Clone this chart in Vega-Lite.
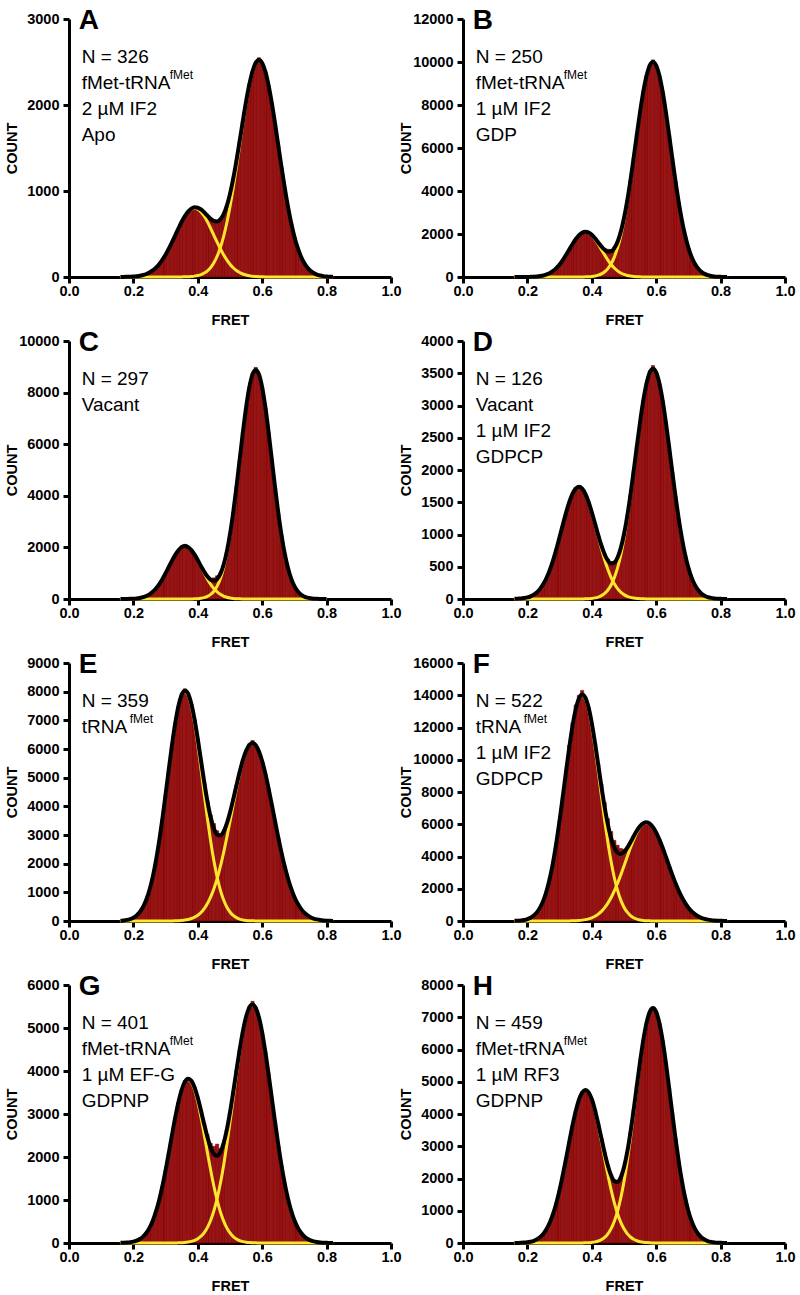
{
"$schema": "https://vega.github.io/schema/vega-lite/v6.json",
"background": "white",
"padding": {"left": 4, "top": 7, "right": 4, "bottom": 2},
"config": {
  "view": {"stroke": null},
  "font": "Liberation Sans"
},
"datasets": {
"d": [
{"p":"A","x":0.16,"h":0,"a":0,"b":0,"t":0},
{"p":"A","x":0.17,"h":1,"a":1,"b":0,"t":1},
{"p":"A","x":0.18,"h":2,"a":2,"b":0,"t":2},
{"p":"A","x":0.19,"h":3,"a":3,"b":0,"t":3},
{"p":"A","x":0.20,"h":5,"a":5,"b":0,"t":5},
{"p":"A","x":0.21,"h":9,"a":9,"b":0,"t":9},
{"p":"A","x":0.22,"h":14,"a":14,"b":0,"t":14},
{"p":"A","x":0.23,"h":23,"a":23,"b":0,"t":23},
{"p":"A","x":0.24,"h":35,"a":35,"b":0,"t":35},
{"p":"A","x":0.25,"h":53,"a":53,"b":0,"t":53},
{"p":"A","x":0.26,"h":76,"a":76,"b":0,"t":76},
{"p":"A","x":0.27,"h":108,"a":108,"b":0,"t":108},
{"p":"A","x":0.28,"h":149,"a":149,"b":0,"t":149},
{"p":"A","x":0.29,"h":200,"a":200,"b":0,"t":200},
{"p":"A","x":0.30,"h":260,"a":260,"b":0,"t":260},
{"p":"A","x":0.31,"h":329,"a":329,"b":0,"t":329},
{"p":"A","x":0.32,"h":405,"a":405,"b":0,"t":405},
{"p":"A","x":0.33,"h":485,"a":485,"b":0,"t":485},
{"p":"A","x":0.34,"h":565,"a":565,"b":0,"t":565},
{"p":"A","x":0.35,"h":642,"a":641,"b":1,"t":642},
{"p":"A","x":0.36,"h":708,"a":706,"b":2,"t":708},
{"p":"A","x":0.37,"h":760,"a":757,"b":3,"t":760},
{"p":"A","x":0.38,"h":800,"a":789,"b":6,"t":795},
{"p":"A","x":0.39,"h":815,"a":800,"b":10,"t":810},
{"p":"A","x":0.40,"h":806,"a":789,"b":17,"t":806},
{"p":"A","x":0.41,"h":785,"a":757,"b":28,"t":785},
{"p":"A","x":0.42,"h":752,"a":706,"b":46,"t":752},
{"p":"A","x":0.43,"h":713,"a":641,"b":72,"t":713},
{"p":"A","x":0.44,"h":680,"a":565,"b":111,"t":676},
{"p":"A","x":0.45,"h":660,"a":485,"b":166,"t":651},
{"p":"A","x":0.46,"h":655,"a":405,"b":241,"t":646},
{"p":"A","x":0.47,"h":675,"a":329,"b":341,"t":670},
{"p":"A","x":0.48,"h":729,"a":260,"b":469,"t":729},
{"p":"A","x":0.49,"h":828,"a":200,"b":628,"t":828},
{"p":"A","x":0.50,"h":967,"a":149,"b":818,"t":967},
{"p":"A","x":0.51,"h":1144,"a":108,"b":1036,"t":1144},
{"p":"A","x":0.52,"h":1352,"a":76,"b":1276,"t":1352},
{"p":"A","x":0.53,"h":1581,"a":53,"b":1528,"t":1581},
{"p":"A","x":0.54,"h":1816,"a":35,"b":1781,"t":1816},
{"p":"A","x":0.55,"h":2041,"a":23,"b":2018,"t":2041},
{"p":"A","x":0.56,"h":2238,"a":14,"b":2224,"t":2238},
{"p":"A","x":0.57,"h":2393,"a":9,"b":2384,"t":2393},
{"p":"A","x":0.58,"h":2500,"a":5,"b":2485,"t":2490},
{"p":"A","x":0.59,"h":2550,"a":3,"b":2520,"t":2523},
{"p":"A","x":0.60,"h":2487,"a":2,"b":2485,"t":2487},
{"p":"A","x":0.61,"h":2385,"a":1,"b":2384,"t":2385},
{"p":"A","x":0.62,"h":2224,"a":0,"b":2224,"t":2224},
{"p":"A","x":0.63,"h":2018,"a":0,"b":2018,"t":2018},
{"p":"A","x":0.64,"h":1781,"a":0,"b":1781,"t":1781},
{"p":"A","x":0.65,"h":1528,"a":0,"b":1528,"t":1528},
{"p":"A","x":0.66,"h":1276,"a":0,"b":1276,"t":1276},
{"p":"A","x":0.67,"h":1036,"a":0,"b":1036,"t":1036},
{"p":"A","x":0.68,"h":818,"a":0,"b":818,"t":818},
{"p":"A","x":0.69,"h":628,"a":0,"b":628,"t":628},
{"p":"A","x":0.70,"h":469,"a":0,"b":469,"t":469},
{"p":"A","x":0.71,"h":341,"a":0,"b":341,"t":341},
{"p":"A","x":0.72,"h":241,"a":0,"b":241,"t":241},
{"p":"A","x":0.73,"h":166,"a":0,"b":166,"t":166},
{"p":"A","x":0.74,"h":111,"a":0,"b":111,"t":111},
{"p":"A","x":0.75,"h":72,"a":0,"b":72,"t":72},
{"p":"A","x":0.76,"h":46,"a":0,"b":46,"t":46},
{"p":"A","x":0.77,"h":28,"a":0,"b":28,"t":28},
{"p":"A","x":0.78,"h":17,"a":0,"b":17,"t":17},
{"p":"A","x":0.79,"h":10,"a":0,"b":10,"t":10},
{"p":"A","x":0.80,"h":6,"a":0,"b":6,"t":6},
{"p":"A","x":0.81,"h":3,"a":0,"b":3,"t":3},
{"p":"A","x":0.82,"h":2,"a":0,"b":2,"t":2},

{"p":"B","x":0.16,"h":0,"a":0,"b":0,"t":0},
{"p":"B","x":0.17,"h":0,"a":0,"b":0,"t":0},
{"p":"B","x":0.18,"h":1,"a":1,"b":0,"t":1},
{"p":"B","x":0.19,"h":1,"a":1,"b":0,"t":1},
{"p":"B","x":0.20,"h":3,"a":3,"b":0,"t":3},
{"p":"B","x":0.21,"h":7,"a":7,"b":0,"t":7},
{"p":"B","x":0.22,"h":13,"a":13,"b":0,"t":13},
{"p":"B","x":0.23,"h":23,"a":23,"b":0,"t":23},
{"p":"B","x":0.24,"h":42,"a":42,"b":0,"t":42},
{"p":"B","x":0.25,"h":71,"a":71,"b":0,"t":71},
{"p":"B","x":0.26,"h":118,"a":118,"b":0,"t":118},
{"p":"B","x":0.27,"h":187,"a":187,"b":0,"t":187},
{"p":"B","x":0.28,"h":284,"a":284,"b":0,"t":284},
{"p":"B","x":0.29,"h":416,"a":416,"b":0,"t":416},
{"p":"B","x":0.30,"h":584,"a":584,"b":0,"t":584},
{"p":"B","x":0.31,"h":788,"a":788,"b":0,"t":788},
{"p":"B","x":0.32,"h":1022,"a":1022,"b":0,"t":1022},
{"p":"B","x":0.33,"h":1274,"a":1274,"b":0,"t":1274},
{"p":"B","x":0.34,"h":1525,"a":1525,"b":0,"t":1525},
{"p":"B","x":0.35,"h":1754,"a":1754,"b":0,"t":1754},
{"p":"B","x":0.36,"h":1940,"a":1939,"b":1,"t":1940},
{"p":"B","x":0.37,"h":2080,"a":2058,"b":3,"t":2061},
{"p":"B","x":0.38,"h":2120,"a":2100,"b":7,"t":2107},
{"p":"B","x":0.39,"h":2071,"a":2058,"b":13,"t":2071},
{"p":"B","x":0.40,"h":1965,"a":1939,"b":26,"t":1965},
{"p":"B","x":0.41,"h":1801,"a":1754,"b":47,"t":1801},
{"p":"B","x":0.42,"h":1620,"a":1525,"b":84,"t":1609},
{"p":"B","x":0.43,"h":1450,"a":1274,"b":145,"t":1419},
{"p":"B","x":0.44,"h":1330,"a":1022,"b":243,"t":1265},
{"p":"B","x":0.45,"h":1290,"a":788,"b":392,"t":1180},
{"p":"B","x":0.46,"h":1280,"a":584,"b":612,"t":1196},
{"p":"B","x":0.47,"h":1390,"a":416,"b":926,"t":1342},
{"p":"B","x":0.48,"h":1637,"a":284,"b":1353,"t":1637},
{"p":"B","x":0.49,"h":2102,"a":187,"b":1915,"t":2102},
{"p":"B","x":0.50,"h":2740,"a":118,"b":2622,"t":2740},
{"p":"B","x":0.51,"h":3543,"a":71,"b":3472,"t":3543},
{"p":"B","x":0.52,"h":4491,"a":42,"b":4449,"t":4491},
{"p":"B","x":0.53,"h":5538,"a":23,"b":5515,"t":5538},
{"p":"B","x":0.54,"h":6628,"a":13,"b":6615,"t":6628},
{"p":"B","x":0.55,"h":7683,"a":7,"b":7676,"t":7683},
{"p":"B","x":0.56,"h":8621,"a":3,"b":8618,"t":8621},
{"p":"B","x":0.57,"h":9361,"a":1,"b":9360,"t":9361},
{"p":"B","x":0.58,"h":9900,"a":1,"b":9836,"t":9837},
{"p":"B","x":0.59,"h":10100,"a":0,"b":10000,"t":10000},
{"p":"B","x":0.60,"h":9836,"a":0,"b":9836,"t":9836},
{"p":"B","x":0.61,"h":9360,"a":0,"b":9360,"t":9360},
{"p":"B","x":0.62,"h":8618,"a":0,"b":8618,"t":8618},
{"p":"B","x":0.63,"h":7676,"a":0,"b":7676,"t":7676},
{"p":"B","x":0.64,"h":6615,"a":0,"b":6615,"t":6615},
{"p":"B","x":0.65,"h":5515,"a":0,"b":5515,"t":5515},
{"p":"B","x":0.66,"h":4449,"a":0,"b":4449,"t":4449},
{"p":"B","x":0.67,"h":3472,"a":0,"b":3472,"t":3472},
{"p":"B","x":0.68,"h":2622,"a":0,"b":2622,"t":2622},
{"p":"B","x":0.69,"h":1915,"a":0,"b":1915,"t":1915},
{"p":"B","x":0.70,"h":1353,"a":0,"b":1353,"t":1353},
{"p":"B","x":0.71,"h":926,"a":0,"b":926,"t":926},
{"p":"B","x":0.72,"h":640,"a":0,"b":612,"t":612},
{"p":"B","x":0.73,"h":420,"a":0,"b":392,"t":392},
{"p":"B","x":0.74,"h":290,"a":0,"b":243,"t":243},
{"p":"B","x":0.75,"h":190,"a":0,"b":145,"t":145},
{"p":"B","x":0.76,"h":120,"a":0,"b":84,"t":84},
{"p":"B","x":0.77,"h":60,"a":0,"b":47,"t":47},
{"p":"B","x":0.78,"h":26,"a":0,"b":26,"t":26},
{"p":"B","x":0.79,"h":13,"a":0,"b":13,"t":13},
{"p":"B","x":0.80,"h":7,"a":0,"b":7,"t":7},
{"p":"B","x":0.81,"h":3,"a":0,"b":3,"t":3},
{"p":"B","x":0.82,"h":1,"a":0,"b":1,"t":1},

{"p":"C","x":0.16,"h":1,"a":1,"b":0,"t":1},
{"p":"C","x":0.17,"h":1,"a":1,"b":0,"t":1},
{"p":"C","x":0.18,"h":3,"a":3,"b":0,"t":3},
{"p":"C","x":0.19,"h":6,"a":6,"b":0,"t":6},
{"p":"C","x":0.20,"h":12,"a":12,"b":0,"t":12},
{"p":"C","x":0.21,"h":23,"a":23,"b":0,"t":23},
{"p":"C","x":0.22,"h":41,"a":41,"b":0,"t":41},
{"p":"C","x":0.23,"h":70,"a":70,"b":0,"t":70},
{"p":"C","x":0.24,"h":115,"a":115,"b":0,"t":115},
{"p":"C","x":0.25,"h":182,"a":182,"b":0,"t":182},
{"p":"C","x":0.26,"h":277,"a":277,"b":0,"t":277},
{"p":"C","x":0.27,"h":406,"a":406,"b":0,"t":406},
{"p":"C","x":0.28,"h":570,"a":570,"b":0,"t":570},
{"p":"C","x":0.29,"h":769,"a":769,"b":0,"t":769},
{"p":"C","x":0.30,"h":998,"a":998,"b":0,"t":998},
{"p":"C","x":0.31,"h":1243,"a":1243,"b":0,"t":1243},
{"p":"C","x":0.32,"h":1489,"a":1489,"b":0,"t":1489},
{"p":"C","x":0.33,"h":1712,"a":1712,"b":0,"t":1712},
{"p":"C","x":0.34,"h":1892,"a":1892,"b":0,"t":1892},
{"p":"C","x":0.35,"h":2060,"a":2009,"b":0,"t":2009},
{"p":"C","x":0.36,"h":2120,"a":2050,"b":0,"t":2050},
{"p":"C","x":0.37,"h":2040,"a":2009,"b":1,"t":2010},
{"p":"C","x":0.38,"h":1895,"a":1892,"b":3,"t":1895},
{"p":"C","x":0.39,"h":1718,"a":1712,"b":6,"t":1718},
{"p":"C","x":0.40,"h":1502,"a":1489,"b":13,"t":1502},
{"p":"C","x":0.41,"h":1271,"a":1243,"b":28,"t":1271},
{"p":"C","x":0.42,"h":1060,"a":998,"b":53,"t":1051},
{"p":"C","x":0.43,"h":890,"a":769,"b":99,"t":868},
{"p":"C","x":0.44,"h":800,"a":570,"b":176,"t":746},
{"p":"C","x":0.45,"h":820,"a":406,"b":302,"t":708},
{"p":"C","x":0.46,"h":900,"a":277,"b":498,"t":775},
{"p":"C","x":0.47,"h":1010,"a":182,"b":789,"t":971},
{"p":"C","x":0.48,"h":1316,"a":115,"b":1201,"t":1316},
{"p":"C","x":0.49,"h":1827,"a":70,"b":1757,"t":1827},
{"p":"C","x":0.50,"h":2510,"a":41,"b":2469,"t":2510},
{"p":"C","x":0.51,"h":3356,"a":23,"b":3333,"t":3356},
{"p":"C","x":0.52,"h":4335,"a":12,"b":4323,"t":4335},
{"p":"C","x":0.53,"h":5392,"a":6,"b":5386,"t":5392},
{"p":"C","x":0.54,"h":6451,"a":3,"b":6448,"t":6451},
{"p":"C","x":0.55,"h":7418,"a":1,"b":7417,"t":7418},
{"p":"C","x":0.56,"h":8198,"a":1,"b":8197,"t":8198},
{"p":"C","x":0.57,"h":8760,"a":0,"b":8704,"t":8704},
{"p":"C","x":0.58,"h":8980,"a":0,"b":8880,"t":8880},
{"p":"C","x":0.59,"h":8704,"a":0,"b":8704,"t":8704},
{"p":"C","x":0.60,"h":8197,"a":0,"b":8197,"t":8197},
{"p":"C","x":0.61,"h":7417,"a":0,"b":7417,"t":7417},
{"p":"C","x":0.62,"h":6448,"a":0,"b":6448,"t":6448},
{"p":"C","x":0.63,"h":5386,"a":0,"b":5386,"t":5386},
{"p":"C","x":0.64,"h":4323,"a":0,"b":4323,"t":4323},
{"p":"C","x":0.65,"h":3333,"a":0,"b":3333,"t":3333},
{"p":"C","x":0.66,"h":2469,"a":0,"b":2469,"t":2469},
{"p":"C","x":0.67,"h":1757,"a":0,"b":1757,"t":1757},
{"p":"C","x":0.68,"h":1201,"a":0,"b":1201,"t":1201},
{"p":"C","x":0.69,"h":789,"a":0,"b":789,"t":789},
{"p":"C","x":0.70,"h":498,"a":0,"b":498,"t":498},
{"p":"C","x":0.71,"h":302,"a":0,"b":302,"t":302},
{"p":"C","x":0.72,"h":176,"a":0,"b":176,"t":176},
{"p":"C","x":0.73,"h":99,"a":0,"b":99,"t":99},
{"p":"C","x":0.74,"h":53,"a":0,"b":53,"t":53},
{"p":"C","x":0.75,"h":28,"a":0,"b":28,"t":28},
{"p":"C","x":0.76,"h":13,"a":0,"b":13,"t":13},
{"p":"C","x":0.77,"h":6,"a":0,"b":6,"t":6},
{"p":"C","x":0.78,"h":3,"a":0,"b":3,"t":3},
{"p":"C","x":0.79,"h":1,"a":0,"b":1,"t":1},
{"p":"C","x":0.80,"h":0,"a":0,"b":0,"t":0},

{"p":"D","x":0.16,"h":2,"a":2,"b":0,"t":2},
{"p":"D","x":0.17,"h":5,"a":5,"b":0,"t":5},
{"p":"D","x":0.18,"h":8,"a":8,"b":0,"t":8},
{"p":"D","x":0.19,"h":15,"a":15,"b":0,"t":15},
{"p":"D","x":0.20,"h":25,"a":25,"b":0,"t":25},
{"p":"D","x":0.21,"h":42,"a":42,"b":0,"t":42},
{"p":"D","x":0.22,"h":68,"a":68,"b":0,"t":68},
{"p":"D","x":0.23,"h":106,"a":106,"b":0,"t":106},
{"p":"D","x":0.24,"h":161,"a":161,"b":0,"t":161},
{"p":"D","x":0.25,"h":235,"a":235,"b":0,"t":235},
{"p":"D","x":0.26,"h":333,"a":333,"b":0,"t":333},
{"p":"D","x":0.27,"h":456,"a":456,"b":0,"t":456},
{"p":"D","x":0.28,"h":604,"a":604,"b":0,"t":604},
{"p":"D","x":0.29,"h":774,"a":774,"b":0,"t":774},
{"p":"D","x":0.30,"h":960,"a":960,"b":0,"t":960},
{"p":"D","x":0.31,"h":1151,"a":1151,"b":0,"t":1151},
{"p":"D","x":0.32,"h":1336,"a":1336,"b":0,"t":1336},
{"p":"D","x":0.33,"h":1500,"a":1500,"b":0,"t":1500},
{"p":"D","x":0.34,"h":1629,"a":1629,"b":0,"t":1629},
{"p":"D","x":0.35,"h":1730,"a":1711,"b":0,"t":1711},
{"p":"D","x":0.36,"h":1760,"a":1740,"b":0,"t":1740},
{"p":"D","x":0.37,"h":1712,"a":1711,"b":1,"t":1712},
{"p":"D","x":0.38,"h":1631,"a":1629,"b":2,"t":1631},
{"p":"D","x":0.39,"h":1505,"a":1500,"b":5,"t":1505},
{"p":"D","x":0.40,"h":1345,"a":1336,"b":9,"t":1345},
{"p":"D","x":0.41,"h":1168,"a":1151,"b":17,"t":1168},
{"p":"D","x":0.42,"h":990,"a":960,"b":30,"t":990},
{"p":"D","x":0.43,"h":826,"a":774,"b":52,"t":826},
{"p":"D","x":0.44,"h":700,"a":604,"b":87,"t":691},
{"p":"D","x":0.45,"h":620,"a":456,"b":140,"t":596},
{"p":"D","x":0.46,"h":580,"a":333,"b":218,"t":551},
{"p":"D","x":0.47,"h":580,"a":235,"b":331,"t":566},
{"p":"D","x":0.48,"h":644,"a":161,"b":483,"t":644},
{"p":"D","x":0.49,"h":790,"a":106,"b":684,"t":790},
{"p":"D","x":0.50,"h":1004,"a":68,"b":936,"t":1004},
{"p":"D","x":0.51,"h":1282,"a":42,"b":1240,"t":1282},
{"p":"D","x":0.52,"h":1613,"a":25,"b":1588,"t":1613},
{"p":"D","x":0.53,"h":1984,"a":15,"b":1969,"t":1984},
{"p":"D","x":0.54,"h":2370,"a":8,"b":2362,"t":2370},
{"p":"D","x":0.55,"h":2745,"a":5,"b":2740,"t":2745},
{"p":"D","x":0.56,"h":3079,"a":2,"b":3077,"t":3079},
{"p":"D","x":0.57,"h":3343,"a":1,"b":3342,"t":3343},
{"p":"D","x":0.58,"h":3540,"a":1,"b":3511,"t":3512},
{"p":"D","x":0.59,"h":3620,"a":0,"b":3570,"t":3570},
{"p":"D","x":0.60,"h":3511,"a":0,"b":3511,"t":3511},
{"p":"D","x":0.61,"h":3342,"a":0,"b":3342,"t":3342},
{"p":"D","x":0.62,"h":3077,"a":0,"b":3077,"t":3077},
{"p":"D","x":0.63,"h":2740,"a":0,"b":2740,"t":2740},
{"p":"D","x":0.64,"h":2362,"a":0,"b":2362,"t":2362},
{"p":"D","x":0.65,"h":1969,"a":0,"b":1969,"t":1969},
{"p":"D","x":0.66,"h":1588,"a":0,"b":1588,"t":1588},
{"p":"D","x":0.67,"h":1240,"a":0,"b":1240,"t":1240},
{"p":"D","x":0.68,"h":936,"a":0,"b":936,"t":936},
{"p":"D","x":0.69,"h":684,"a":0,"b":684,"t":684},
{"p":"D","x":0.70,"h":483,"a":0,"b":483,"t":483},
{"p":"D","x":0.71,"h":331,"a":0,"b":331,"t":331},
{"p":"D","x":0.72,"h":218,"a":0,"b":218,"t":218},
{"p":"D","x":0.73,"h":140,"a":0,"b":140,"t":140},
{"p":"D","x":0.74,"h":87,"a":0,"b":87,"t":87},
{"p":"D","x":0.75,"h":52,"a":0,"b":52,"t":52},
{"p":"D","x":0.76,"h":30,"a":0,"b":30,"t":30},
{"p":"D","x":0.77,"h":17,"a":0,"b":17,"t":17},
{"p":"D","x":0.78,"h":9,"a":0,"b":9,"t":9},
{"p":"D","x":0.79,"h":5,"a":0,"b":5,"t":5},
{"p":"D","x":0.80,"h":2,"a":0,"b":2,"t":2},
{"p":"D","x":0.81,"h":1,"a":0,"b":1,"t":1},
{"p":"D","x":0.82,"h":0,"a":0,"b":0,"t":0},

{"p":"E","x":0.16,"h":10,"a":10,"b":0,"t":10},
{"p":"E","x":0.17,"h":21,"a":21,"b":0,"t":21},
{"p":"E","x":0.18,"h":38,"a":38,"b":0,"t":38},
{"p":"E","x":0.19,"h":67,"a":67,"b":0,"t":67},
{"p":"E","x":0.20,"h":116,"a":116,"b":0,"t":116},
{"p":"E","x":0.21,"h":194,"a":194,"b":0,"t":194},
{"p":"E","x":0.22,"h":314,"a":314,"b":0,"t":314},
{"p":"E","x":0.23,"h":490,"a":490,"b":0,"t":490},
{"p":"E","x":0.24,"h":741,"a":741,"b":0,"t":741},
{"p":"E","x":0.25,"h":1082,"a":1082,"b":0,"t":1082},
{"p":"E","x":0.26,"h":1532,"a":1532,"b":0,"t":1532},
{"p":"E","x":0.27,"h":2098,"a":2098,"b":0,"t":2098},
{"p":"E","x":0.28,"h":2778,"a":2778,"b":0,"t":2778},
{"p":"E","x":0.29,"h":3560,"a":3559,"b":1,"t":3560},
{"p":"E","x":0.30,"h":4413,"a":4412,"b":1,"t":4413},
{"p":"E","x":0.31,"h":5294,"a":5292,"b":2,"t":5294},
{"p":"E","x":0.32,"h":6145,"a":6141,"b":4,"t":6145},
{"p":"E","x":0.33,"h":6901,"a":6894,"b":7,"t":6901},
{"p":"E","x":0.34,"h":7500,"a":7488,"b":12,"t":7500},
{"p":"E","x":0.35,"h":7950,"a":7869,"b":20,"t":7889},
{"p":"E","x":0.36,"h":8100,"a":8000,"b":33,"t":8033},
{"p":"E","x":0.37,"h":7960,"a":7869,"b":55,"t":7924},
{"p":"E","x":0.38,"h":7574,"a":7488,"b":86,"t":7574},
{"p":"E","x":0.39,"h":7028,"a":6894,"b":134,"t":7028},
{"p":"E","x":0.40,"h":6344,"a":6141,"b":203,"t":6344},
{"p":"E","x":0.41,"h":5591,"a":5292,"b":299,"t":5591},
{"p":"E","x":0.42,"h":4845,"a":4412,"b":433,"t":4845},
{"p":"E","x":0.43,"h":4200,"a":3559,"b":609,"t":4168},
{"p":"E","x":0.44,"h":3700,"a":2778,"b":839,"t":3617},
{"p":"E","x":0.45,"h":3400,"a":2098,"b":1128,"t":3226},
{"p":"E","x":0.46,"h":3150,"a":1532,"b":1481,"t":3013},
{"p":"E","x":0.47,"h":3050,"a":1082,"b":1898,"t":2980},
{"p":"E","x":0.48,"h":3118,"a":741,"b":2377,"t":3118},
{"p":"E","x":0.49,"h":3397,"a":490,"b":2907,"t":3397},
{"p":"E","x":0.50,"h":3786,"a":314,"b":3472,"t":3786},
{"p":"E","x":0.51,"h":4243,"a":194,"b":4049,"t":4243},
{"p":"E","x":0.52,"h":4728,"a":116,"b":4612,"t":4728},
{"p":"E","x":0.53,"h":5198,"a":67,"b":5131,"t":5198},
{"p":"E","x":0.54,"h":5612,"a":38,"b":5574,"t":5612},
{"p":"E","x":0.55,"h":5935,"a":21,"b":5914,"t":5935},
{"p":"E","x":0.56,"h":6180,"a":10,"b":6127,"t":6137},
{"p":"E","x":0.57,"h":6300,"a":6,"b":6200,"t":6206},
{"p":"E","x":0.58,"h":6129,"a":2,"b":6127,"t":6129},
{"p":"E","x":0.59,"h":5915,"a":1,"b":5914,"t":5915},
{"p":"E","x":0.60,"h":5574,"a":0,"b":5574,"t":5574},
{"p":"E","x":0.61,"h":5131,"a":0,"b":5131,"t":5131},
{"p":"E","x":0.62,"h":4612,"a":0,"b":4612,"t":4612},
{"p":"E","x":0.63,"h":4049,"a":0,"b":4049,"t":4049},
{"p":"E","x":0.64,"h":3472,"a":0,"b":3472,"t":3472},
{"p":"E","x":0.65,"h":2907,"a":0,"b":2907,"t":2907},
{"p":"E","x":0.66,"h":2377,"a":0,"b":2377,"t":2377},
{"p":"E","x":0.67,"h":1898,"a":0,"b":1898,"t":1898},
{"p":"E","x":0.68,"h":1481,"a":0,"b":1481,"t":1481},
{"p":"E","x":0.69,"h":1128,"a":0,"b":1128,"t":1128},
{"p":"E","x":0.70,"h":839,"a":0,"b":839,"t":839},
{"p":"E","x":0.71,"h":609,"a":0,"b":609,"t":609},
{"p":"E","x":0.72,"h":433,"a":0,"b":433,"t":433},
{"p":"E","x":0.73,"h":299,"a":0,"b":299,"t":299},
{"p":"E","x":0.74,"h":203,"a":0,"b":203,"t":203},
{"p":"E","x":0.75,"h":134,"a":0,"b":134,"t":134},
{"p":"E","x":0.76,"h":86,"a":0,"b":86,"t":86},
{"p":"E","x":0.77,"h":55,"a":0,"b":55,"t":55},
{"p":"E","x":0.78,"h":33,"a":0,"b":33,"t":33},
{"p":"E","x":0.79,"h":20,"a":0,"b":20,"t":20},
{"p":"E","x":0.80,"h":12,"a":0,"b":12,"t":12},
{"p":"E","x":0.81,"h":7,"a":0,"b":7,"t":7},
{"p":"E","x":0.82,"h":4,"a":0,"b":4,"t":4},

{"p":"F","x":0.16,"h":10,"a":10,"b":0,"t":10},
{"p":"F","x":0.17,"h":18,"a":18,"b":0,"t":18},
{"p":"F","x":0.18,"h":36,"a":36,"b":0,"t":36},
{"p":"F","x":0.19,"h":66,"a":66,"b":0,"t":66},
{"p":"F","x":0.20,"h":118,"a":118,"b":0,"t":118},
{"p":"F","x":0.21,"h":203,"a":203,"b":0,"t":203},
{"p":"F","x":0.22,"h":340,"a":340,"b":0,"t":340},
{"p":"F","x":0.23,"h":549,"a":549,"b":0,"t":549},
{"p":"F","x":0.24,"h":857,"a":857,"b":0,"t":857},
{"p":"F","x":0.25,"h":1296,"a":1296,"b":0,"t":1296},
{"p":"F","x":0.26,"h":1894,"a":1894,"b":0,"t":1894},
{"p":"F","x":0.27,"h":2681,"a":2681,"b":0,"t":2681},
{"p":"F","x":0.28,"h":3671,"a":3671,"b":0,"t":3671},
{"p":"F","x":0.29,"h":4862,"a":4861,"b":1,"t":4862},
{"p":"F","x":0.30,"h":6230,"a":6229,"b":1,"t":6230},
{"p":"F","x":0.31,"h":7723,"a":7721,"b":2,"t":7723},
{"p":"F","x":0.32,"h":9265,"a":9261,"b":4,"t":9265},
{"p":"F","x":0.33,"h":10900,"a":10746,"b":7,"t":10753},
{"p":"F","x":0.34,"h":12300,"a":12065,"b":12,"t":12077},
{"p":"F","x":0.35,"h":13400,"a":13104,"b":20,"t":13124},
{"p":"F","x":0.36,"h":14000,"a":13770,"b":33,"t":13803},
{"p":"F","x":0.37,"h":14300,"a":14000,"b":54,"t":14054},
{"p":"F","x":0.38,"h":13855,"a":13770,"b":85,"t":13855},
{"p":"F","x":0.39,"h":13236,"a":13104,"b":132,"t":13236},
{"p":"F","x":0.40,"h":12264,"a":12065,"b":199,"t":12264},
{"p":"F","x":0.41,"h":11041,"a":10746,"b":295,"t":11041},
{"p":"F","x":0.42,"h":9750,"a":9261,"b":426,"t":9687},
{"p":"F","x":0.43,"h":8500,"a":7721,"b":600,"t":8321},
{"p":"F","x":0.44,"h":7350,"a":6229,"b":825,"t":7054},
{"p":"F","x":0.45,"h":6350,"a":4861,"b":1110,"t":5971},
{"p":"F","x":0.46,"h":5550,"a":3671,"b":1457,"t":5128},
{"p":"F","x":0.47,"h":5000,"a":2681,"b":1868,"t":4549},
{"p":"F","x":0.48,"h":4700,"a":1894,"b":2339,"t":4233},
{"p":"F","x":0.49,"h":4500,"a":1296,"b":2860,"t":4156},
{"p":"F","x":0.50,"h":4450,"a":857,"b":3416,"t":4273},
{"p":"F","x":0.51,"h":4600,"a":549,"b":3984,"t":4533},
{"p":"F","x":0.52,"h":4878,"a":340,"b":4538,"t":4878},
{"p":"F","x":0.53,"h":5251,"a":203,"b":5048,"t":5251},
{"p":"F","x":0.54,"h":5602,"a":118,"b":5484,"t":5602},
{"p":"F","x":0.55,"h":5884,"a":66,"b":5818,"t":5884},
{"p":"F","x":0.56,"h":6064,"a":36,"b":6028,"t":6064},
{"p":"F","x":0.57,"h":6118,"a":18,"b":6100,"t":6118},
{"p":"F","x":0.58,"h":6038,"a":10,"b":6028,"t":6038},
{"p":"F","x":0.59,"h":5822,"a":4,"b":5818,"t":5822},
{"p":"F","x":0.60,"h":5485,"a":1,"b":5484,"t":5485},
{"p":"F","x":0.61,"h":5048,"a":0,"b":5048,"t":5048},
{"p":"F","x":0.62,"h":4538,"a":0,"b":4538,"t":4538},
{"p":"F","x":0.63,"h":3984,"a":0,"b":3984,"t":3984},
{"p":"F","x":0.64,"h":3416,"a":0,"b":3416,"t":3416},
{"p":"F","x":0.65,"h":2860,"a":0,"b":2860,"t":2860},
{"p":"F","x":0.66,"h":2339,"a":0,"b":2339,"t":2339},
{"p":"F","x":0.67,"h":1868,"a":0,"b":1868,"t":1868},
{"p":"F","x":0.68,"h":1457,"a":0,"b":1457,"t":1457},
{"p":"F","x":0.69,"h":1110,"a":0,"b":1110,"t":1110},
{"p":"F","x":0.70,"h":825,"a":0,"b":825,"t":825},
{"p":"F","x":0.71,"h":600,"a":0,"b":600,"t":600},
{"p":"F","x":0.72,"h":426,"a":0,"b":426,"t":426},
{"p":"F","x":0.73,"h":295,"a":0,"b":295,"t":295},
{"p":"F","x":0.74,"h":199,"a":0,"b":199,"t":199},
{"p":"F","x":0.75,"h":132,"a":0,"b":132,"t":132},
{"p":"F","x":0.76,"h":85,"a":0,"b":85,"t":85},
{"p":"F","x":0.77,"h":54,"a":0,"b":54,"t":54},
{"p":"F","x":0.78,"h":33,"a":0,"b":33,"t":33},
{"p":"F","x":0.79,"h":20,"a":0,"b":20,"t":20},
{"p":"F","x":0.80,"h":12,"a":0,"b":12,"t":12},
{"p":"F","x":0.81,"h":7,"a":0,"b":7,"t":7},
{"p":"F","x":0.82,"h":4,"a":0,"b":4,"t":4},

{"p":"G","x":0.16,"h":3,"a":3,"b":0,"t":3},
{"p":"G","x":0.17,"h":5,"a":5,"b":0,"t":5},
{"p":"G","x":0.18,"h":10,"a":10,"b":0,"t":10},
{"p":"G","x":0.19,"h":18,"a":18,"b":0,"t":18},
{"p":"G","x":0.20,"h":32,"a":32,"b":0,"t":32},
{"p":"G","x":0.21,"h":55,"a":55,"b":0,"t":55},
{"p":"G","x":0.22,"h":92,"a":92,"b":0,"t":92},
{"p":"G","x":0.23,"h":149,"a":149,"b":0,"t":149},
{"p":"G","x":0.24,"h":233,"a":233,"b":0,"t":233},
{"p":"G","x":0.25,"h":352,"a":352,"b":0,"t":352},
{"p":"G","x":0.26,"h":514,"a":514,"b":0,"t":514},
{"p":"G","x":0.27,"h":728,"a":728,"b":0,"t":728},
{"p":"G","x":0.28,"h":996,"a":996,"b":0,"t":996},
{"p":"G","x":0.29,"h":1319,"a":1319,"b":0,"t":1319},
{"p":"G","x":0.30,"h":1691,"a":1691,"b":0,"t":1691},
{"p":"G","x":0.31,"h":2096,"a":2096,"b":0,"t":2096},
{"p":"G","x":0.32,"h":2515,"a":2514,"b":1,"t":2515},
{"p":"G","x":0.33,"h":2919,"a":2917,"b":2,"t":2919},
{"p":"G","x":0.34,"h":3278,"a":3275,"b":3,"t":3278},
{"p":"G","x":0.35,"h":3580,"a":3557,"b":7,"t":3564},
{"p":"G","x":0.36,"h":3780,"a":3738,"b":12,"t":3750},
{"p":"G","x":0.37,"h":3850,"a":3800,"b":22,"t":3822},
{"p":"G","x":0.38,"h":3775,"a":3738,"b":37,"t":3775},
{"p":"G","x":0.39,"h":3618,"a":3557,"b":61,"t":3618},
{"p":"G","x":0.40,"h":3375,"a":3275,"b":100,"t":3375},
{"p":"G","x":0.41,"h":3075,"a":2917,"b":158,"t":3075},
{"p":"G","x":0.42,"h":2780,"a":2514,"b":243,"t":2757},
{"p":"G","x":0.43,"h":2520,"a":2096,"b":364,"t":2460},
{"p":"G","x":0.44,"h":2320,"a":1691,"b":530,"t":2221},
{"p":"G","x":0.45,"h":2250,"a":1319,"b":750,"t":2069},
{"p":"G","x":0.46,"h":2300,"a":996,"b":1032,"t":2028},
{"p":"G","x":0.47,"h":2200,"a":728,"b":1382,"t":2110},
{"p":"G","x":0.48,"h":2313,"a":514,"b":1799,"t":2313},
{"p":"G","x":0.49,"h":2629,"a":352,"b":2277,"t":2629},
{"p":"G","x":0.50,"h":3038,"a":233,"b":2805,"t":3038},
{"p":"G","x":0.51,"h":3509,"a":149,"b":3360,"t":3509},
{"p":"G","x":0.52,"h":4007,"a":92,"b":3915,"t":4007},
{"p":"G","x":0.53,"h":4491,"a":55,"b":4436,"t":4491},
{"p":"G","x":0.54,"h":4921,"a":32,"b":4889,"t":4921},
{"p":"G","x":0.55,"h":5259,"a":18,"b":5241,"t":5259},
{"p":"G","x":0.56,"h":5500,"a":10,"b":5464,"t":5474},
{"p":"G","x":0.57,"h":5620,"a":5,"b":5540,"t":5545},
{"p":"G","x":0.58,"h":5467,"a":3,"b":5464,"t":5467},
{"p":"G","x":0.59,"h":5242,"a":1,"b":5241,"t":5242},
{"p":"G","x":0.60,"h":4889,"a":0,"b":4889,"t":4889},
{"p":"G","x":0.61,"h":4436,"a":0,"b":4436,"t":4436},
{"p":"G","x":0.62,"h":3915,"a":0,"b":3915,"t":3915},
{"p":"G","x":0.63,"h":3360,"a":0,"b":3360,"t":3360},
{"p":"G","x":0.64,"h":2805,"a":0,"b":2805,"t":2805},
{"p":"G","x":0.65,"h":2277,"a":0,"b":2277,"t":2277},
{"p":"G","x":0.66,"h":1799,"a":0,"b":1799,"t":1799},
{"p":"G","x":0.67,"h":1382,"a":0,"b":1382,"t":1382},
{"p":"G","x":0.68,"h":1032,"a":0,"b":1032,"t":1032},
{"p":"G","x":0.69,"h":750,"a":0,"b":750,"t":750},
{"p":"G","x":0.70,"h":530,"a":0,"b":530,"t":530},
{"p":"G","x":0.71,"h":364,"a":0,"b":364,"t":364},
{"p":"G","x":0.72,"h":243,"a":0,"b":243,"t":243},
{"p":"G","x":0.73,"h":158,"a":0,"b":158,"t":158},
{"p":"G","x":0.74,"h":100,"a":0,"b":100,"t":100},
{"p":"G","x":0.75,"h":61,"a":0,"b":61,"t":61},
{"p":"G","x":0.76,"h":37,"a":0,"b":37,"t":37},
{"p":"G","x":0.77,"h":22,"a":0,"b":22,"t":22},
{"p":"G","x":0.78,"h":12,"a":0,"b":12,"t":12},
{"p":"G","x":0.79,"h":7,"a":0,"b":7,"t":7},
{"p":"G","x":0.80,"h":3,"a":0,"b":3,"t":3},
{"p":"G","x":0.81,"h":2,"a":0,"b":2,"t":2},
{"p":"G","x":0.82,"h":1,"a":0,"b":1,"t":1},

{"p":"H","x":0.16,"h":1,"a":1,"b":0,"t":1},
{"p":"H","x":0.17,"h":3,"a":3,"b":0,"t":3},
{"p":"H","x":0.18,"h":6,"a":6,"b":0,"t":6},
{"p":"H","x":0.19,"h":12,"a":12,"b":0,"t":12},
{"p":"H","x":0.20,"h":22,"a":22,"b":0,"t":22},
{"p":"H","x":0.21,"h":40,"a":40,"b":0,"t":40},
{"p":"H","x":0.22,"h":69,"a":69,"b":0,"t":69},
{"p":"H","x":0.23,"h":115,"a":115,"b":0,"t":115},
{"p":"H","x":0.24,"h":186,"a":186,"b":0,"t":186},
{"p":"H","x":0.25,"h":290,"a":290,"b":0,"t":290},
{"p":"H","x":0.26,"h":439,"a":439,"b":0,"t":439},
{"p":"H","x":0.27,"h":641,"a":641,"b":0,"t":641},
{"p":"H","x":0.28,"h":908,"a":908,"b":0,"t":908},
{"p":"H","x":0.29,"h":1243,"a":1243,"b":0,"t":1243},
{"p":"H","x":0.30,"h":1646,"a":1646,"b":0,"t":1646},
{"p":"H","x":0.31,"h":2109,"a":2109,"b":0,"t":2109},
{"p":"H","x":0.32,"h":2614,"a":2614,"b":0,"t":2614},
{"p":"H","x":0.33,"h":3136,"a":3136,"b":0,"t":3136},
{"p":"H","x":0.34,"h":3638,"a":3638,"b":0,"t":3638},
{"p":"H","x":0.35,"h":4085,"a":4085,"b":0,"t":4085},
{"p":"H","x":0.36,"h":4438,"a":4437,"b":1,"t":4438},
{"p":"H","x":0.37,"h":4680,"a":4662,"b":2,"t":4664},
{"p":"H","x":0.38,"h":4770,"a":4740,"b":5,"t":4745},
{"p":"H","x":0.39,"h":4671,"a":4662,"b":9,"t":4671},
{"p":"H","x":0.40,"h":4456,"a":4437,"b":19,"t":4456},
{"p":"H","x":0.41,"h":4119,"a":4085,"b":34,"t":4119},
{"p":"H","x":0.42,"h":3699,"a":3638,"b":61,"t":3699},
{"p":"H","x":0.43,"h":3242,"a":3136,"b":106,"t":3242},
{"p":"H","x":0.44,"h":2800,"a":2614,"b":177,"t":2791},
{"p":"H","x":0.45,"h":2420,"a":2109,"b":285,"t":2394},
{"p":"H","x":0.46,"h":2130,"a":1646,"b":446,"t":2092},
{"p":"H","x":0.47,"h":1960,"a":1243,"b":674,"t":1917},
{"p":"H","x":0.48,"h":1920,"a":908,"b":985,"t":1893},
{"p":"H","x":0.49,"h":2035,"a":641,"b":1394,"t":2035},
{"p":"H","x":0.50,"h":2348,"a":439,"b":1909,"t":2348},
{"p":"H","x":0.51,"h":2818,"a":290,"b":2528,"t":2818},
{"p":"H","x":0.52,"h":3425,"a":186,"b":3239,"t":3425},
{"p":"H","x":0.53,"h":4130,"a":115,"b":4015,"t":4130},
{"p":"H","x":0.54,"h":4885,"a":69,"b":4816,"t":4885},
{"p":"H","x":0.55,"h":5628,"a":40,"b":5588,"t":5628},
{"p":"H","x":0.56,"h":6296,"a":22,"b":6274,"t":6296},
{"p":"H","x":0.57,"h":6826,"a":12,"b":6814,"t":6826},
{"p":"H","x":0.58,"h":7167,"a":6,"b":7161,"t":7167},
{"p":"H","x":0.59,"h":7283,"a":3,"b":7280,"t":7283},
{"p":"H","x":0.60,"h":7162,"a":1,"b":7161,"t":7162},
{"p":"H","x":0.61,"h":6814,"a":0,"b":6814,"t":6814},
{"p":"H","x":0.62,"h":6274,"a":0,"b":6274,"t":6274},
{"p":"H","x":0.63,"h":5588,"a":0,"b":5588,"t":5588},
{"p":"H","x":0.64,"h":4816,"a":0,"b":4816,"t":4816},
{"p":"H","x":0.65,"h":4015,"a":0,"b":4015,"t":4015},
{"p":"H","x":0.66,"h":3239,"a":0,"b":3239,"t":3239},
{"p":"H","x":0.67,"h":2528,"a":0,"b":2528,"t":2528},
{"p":"H","x":0.68,"h":1909,"a":0,"b":1909,"t":1909},
{"p":"H","x":0.69,"h":1394,"a":0,"b":1394,"t":1394},
{"p":"H","x":0.70,"h":985,"a":0,"b":985,"t":985},
{"p":"H","x":0.71,"h":674,"a":0,"b":674,"t":674},
{"p":"H","x":0.72,"h":446,"a":0,"b":446,"t":446},
{"p":"H","x":0.73,"h":285,"a":0,"b":285,"t":285},
{"p":"H","x":0.74,"h":177,"a":0,"b":177,"t":177},
{"p":"H","x":0.75,"h":106,"a":0,"b":106,"t":106},
{"p":"H","x":0.76,"h":61,"a":0,"b":61,"t":61},
{"p":"H","x":0.77,"h":34,"a":0,"b":34,"t":34},
{"p":"H","x":0.78,"h":19,"a":0,"b":19,"t":19},
{"p":"H","x":0.79,"h":9,"a":0,"b":9,"t":9},
{"p":"H","x":0.80,"h":5,"a":0,"b":5,"t":5},
{"p":"H","x":0.81,"h":2,"a":0,"b":2,"t":2},
{"p":"H","x":0.82,"h":1,"a":0,"b":1,"t":1}
]
},
"columns": 2,
"bounds": "flush",
"spacing": {"row": 64, "column": 72},
"concat": [
{
 "width": 322, "height": 258,
 "layer": [
  {"data": {"name": "d"}, "transform": [{"filter": "datum.p === 'A'"}],
   "encoding": {"x": {"field": "x", "type": "quantitative", "title": "FRET", "scale": {"domain": [0, 1], "nice": false, "padding": 0}, "axis": {"values": [0, 0.2, 0.4, 0.6, 0.8, 1], "format": ".1f", "labelFont": "Liberation Sans", "labelFontSize": 14.5, "labelFontWeight": "bold", "labelColor": "black", "labelFlush": false, "labelOverlap": false, "labelPadding": 1, "titleFont": "Liberation Sans", "titleFontSize": 14.5, "titleFontWeight": "bold", "titleColor": "black", "titleY": 36, "domainColor": "black", "domainWidth": 3, "tickColor": "black", "tickWidth": 3, "tickSize": 6, "grid": false}}},
   "layer": [
    {"mark": {"type": "bar", "width": 3.2, "fill": "#9c1111", "stroke": "#680303", "strokeWidth": 0.5}, "encoding": {"y": {"field": "h", "type": "quantitative", "title": "COUNT", "scale": {"domain": [0, 3000], "nice": false}, "axis": {"values": [0, 1000, 2000, 3000], "format": "d", "labelFont": "Liberation Sans", "labelFontSize": 14.5, "labelFontWeight": "bold", "labelColor": "black", "labelOverlap": false, "labelPadding": 4, "titleFont": "Liberation Sans", "titleFontSize": 14.5, "titleFontWeight": "bold", "titleColor": "black", "titleX": -50, "domainColor": "black", "domainWidth": 3, "tickColor": "black", "tickWidth": 3, "tickSize": 6, "grid": false}}}},
    {"mark": {"type": "line", "color": "#ffe62e", "strokeWidth": 3, "interpolate": "monotone"}, "encoding": {"y": {"field": "a", "type": "quantitative", "title": "COUNT", "axis": {"values": [0, 1000, 2000, 3000], "format": "d", "labelFont": "Liberation Sans", "labelFontSize": 14.5, "labelFontWeight": "bold", "labelColor": "black", "labelOverlap": false, "labelPadding": 4, "titleFont": "Liberation Sans", "titleFontSize": 14.5, "titleFontWeight": "bold", "titleColor": "black", "titleX": -50, "domainColor": "black", "domainWidth": 3, "tickColor": "black", "tickWidth": 3, "tickSize": 6, "grid": false}}}},
    {"mark": {"type": "line", "color": "#ffe62e", "strokeWidth": 3, "interpolate": "monotone"}, "encoding": {"y": {"field": "b", "type": "quantitative", "title": "COUNT", "axis": {"values": [0, 1000, 2000, 3000], "format": "d", "labelFont": "Liberation Sans", "labelFontSize": 14.5, "labelFontWeight": "bold", "labelColor": "black", "labelOverlap": false, "labelPadding": 4, "titleFont": "Liberation Sans", "titleFontSize": 14.5, "titleFontWeight": "bold", "titleColor": "black", "titleX": -50, "domainColor": "black", "domainWidth": 3, "tickColor": "black", "tickWidth": 3, "tickSize": 6, "grid": false}}}},
    {"mark": {"type": "line", "color": "black", "strokeWidth": 4, "interpolate": "monotone"}, "encoding": {"y": {"field": "t", "type": "quantitative", "title": "COUNT", "axis": {"values": [0, 1000, 2000, 3000], "format": "d", "labelFont": "Liberation Sans", "labelFontSize": 14.5, "labelFontWeight": "bold", "labelColor": "black", "labelOverlap": false, "labelPadding": 4, "titleFont": "Liberation Sans", "titleFontSize": 14.5, "titleFontWeight": "bold", "titleColor": "black", "titleX": -50, "domainColor": "black", "domainWidth": 3, "tickColor": "black", "tickWidth": 3, "tickSize": 6, "grid": false}}}}
   ]},
  {"data": {"values": [{}]},
   "encoding": {"x": {"datum": 0.03, "type": "quantitative", "title": "FRET", "axis": {"values": [0, 0.2, 0.4, 0.6, 0.8, 1], "format": ".1f", "labelFont": "Liberation Sans", "labelFontSize": 14.5, "labelFontWeight": "bold", "labelColor": "black", "labelFlush": false, "labelOverlap": false, "labelPadding": 1, "titleFont": "Liberation Sans", "titleFontSize": 14.5, "titleFontWeight": "bold", "titleColor": "black", "titleY": 36, "domainColor": "black", "domainWidth": 3, "tickColor": "black", "tickWidth": 3, "tickSize": 6, "grid": false}}},
   "layer": [
    {"mark": {"type": "text", "align": "left", "baseline": "alphabetic", "fontSize": 28, "fontWeight": "bold", "font": "Liberation Sans"}, "encoding": {"y": {"datum": 0.961, "type": "quantitative", "scale": {"domain": [0, 1]}, "axis": null}, "text": {"value": "A"}}},
    {"mark": {"type": "text", "align": "left", "baseline": "alphabetic", "fontSize": 19, "lineHeight": 26, "font": "Liberation Sans", "dx": 3}, "encoding": {"y": {"datum": 0.829, "type": "quantitative", "scale": {"domain": [0, 1]}, "axis": null}, "text": {"value": ["N = 326", "fMet-tRNA", "2 µM IF2", "Apo"]}}},
    {"mark": {"type": "text", "align": "left", "baseline": "alphabetic", "fontSize": 12, "font": "Liberation Sans", "dx": 91}, "encoding": {"y": {"datum": 0.767, "type": "quantitative", "scale": {"domain": [0, 1]}, "axis": null}, "text": {"value": "fMet"}}}
   ]}
 ],
 "resolve": {"scale": {"y": "independent"}}
},
{
 "width": 322, "height": 258,
 "layer": [
  {"data": {"name": "d"}, "transform": [{"filter": "datum.p === 'B'"}],
   "encoding": {"x": {"field": "x", "type": "quantitative", "title": "FRET", "scale": {"domain": [0, 1], "nice": false, "padding": 0}, "axis": {"values": [0, 0.2, 0.4, 0.6, 0.8, 1], "format": ".1f", "labelFont": "Liberation Sans", "labelFontSize": 14.5, "labelFontWeight": "bold", "labelColor": "black", "labelFlush": false, "labelOverlap": false, "labelPadding": 1, "titleFont": "Liberation Sans", "titleFontSize": 14.5, "titleFontWeight": "bold", "titleColor": "black", "titleY": 36, "domainColor": "black", "domainWidth": 3, "tickColor": "black", "tickWidth": 3, "tickSize": 6, "grid": false}}},
   "layer": [
    {"mark": {"type": "bar", "width": 3.2, "fill": "#9c1111", "stroke": "#680303", "strokeWidth": 0.5}, "encoding": {"y": {"field": "h", "type": "quantitative", "title": "COUNT", "scale": {"domain": [0, 12000], "nice": false}, "axis": {"values": [0, 2000, 4000, 6000, 8000, 10000, 12000], "format": "d", "labelFont": "Liberation Sans", "labelFontSize": 14.5, "labelFontWeight": "bold", "labelColor": "black", "labelOverlap": false, "labelPadding": 4, "titleFont": "Liberation Sans", "titleFontSize": 14.5, "titleFontWeight": "bold", "titleColor": "black", "titleX": -50, "domainColor": "black", "domainWidth": 3, "tickColor": "black", "tickWidth": 3, "tickSize": 6, "grid": false}}}},
    {"mark": {"type": "line", "color": "#ffe62e", "strokeWidth": 3, "interpolate": "monotone"}, "encoding": {"y": {"field": "a", "type": "quantitative", "title": "COUNT", "axis": {"values": [0, 2000, 4000, 6000, 8000, 10000, 12000], "format": "d", "labelFont": "Liberation Sans", "labelFontSize": 14.5, "labelFontWeight": "bold", "labelColor": "black", "labelOverlap": false, "labelPadding": 4, "titleFont": "Liberation Sans", "titleFontSize": 14.5, "titleFontWeight": "bold", "titleColor": "black", "titleX": -50, "domainColor": "black", "domainWidth": 3, "tickColor": "black", "tickWidth": 3, "tickSize": 6, "grid": false}}}},
    {"mark": {"type": "line", "color": "#ffe62e", "strokeWidth": 3, "interpolate": "monotone"}, "encoding": {"y": {"field": "b", "type": "quantitative", "title": "COUNT", "axis": {"values": [0, 2000, 4000, 6000, 8000, 10000, 12000], "format": "d", "labelFont": "Liberation Sans", "labelFontSize": 14.5, "labelFontWeight": "bold", "labelColor": "black", "labelOverlap": false, "labelPadding": 4, "titleFont": "Liberation Sans", "titleFontSize": 14.5, "titleFontWeight": "bold", "titleColor": "black", "titleX": -50, "domainColor": "black", "domainWidth": 3, "tickColor": "black", "tickWidth": 3, "tickSize": 6, "grid": false}}}},
    {"mark": {"type": "line", "color": "black", "strokeWidth": 4, "interpolate": "monotone"}, "encoding": {"y": {"field": "t", "type": "quantitative", "title": "COUNT", "axis": {"values": [0, 2000, 4000, 6000, 8000, 10000, 12000], "format": "d", "labelFont": "Liberation Sans", "labelFontSize": 14.5, "labelFontWeight": "bold", "labelColor": "black", "labelOverlap": false, "labelPadding": 4, "titleFont": "Liberation Sans", "titleFontSize": 14.5, "titleFontWeight": "bold", "titleColor": "black", "titleX": -50, "domainColor": "black", "domainWidth": 3, "tickColor": "black", "tickWidth": 3, "tickSize": 6, "grid": false}}}}
   ]},
  {"data": {"values": [{}]},
   "encoding": {"x": {"datum": 0.03, "type": "quantitative", "title": "FRET", "axis": {"values": [0, 0.2, 0.4, 0.6, 0.8, 1], "format": ".1f", "labelFont": "Liberation Sans", "labelFontSize": 14.5, "labelFontWeight": "bold", "labelColor": "black", "labelFlush": false, "labelOverlap": false, "labelPadding": 1, "titleFont": "Liberation Sans", "titleFontSize": 14.5, "titleFontWeight": "bold", "titleColor": "black", "titleY": 36, "domainColor": "black", "domainWidth": 3, "tickColor": "black", "tickWidth": 3, "tickSize": 6, "grid": false}}},
   "layer": [
    {"mark": {"type": "text", "align": "left", "baseline": "alphabetic", "fontSize": 28, "fontWeight": "bold", "font": "Liberation Sans"}, "encoding": {"y": {"datum": 0.961, "type": "quantitative", "scale": {"domain": [0, 1]}, "axis": null}, "text": {"value": "B"}}},
    {"mark": {"type": "text", "align": "left", "baseline": "alphabetic", "fontSize": 19, "lineHeight": 26, "font": "Liberation Sans", "dx": 3}, "encoding": {"y": {"datum": 0.829, "type": "quantitative", "scale": {"domain": [0, 1]}, "axis": null}, "text": {"value": ["N = 250", "fMet-tRNA", "1 µM IF2", "GDP"]}}},
    {"mark": {"type": "text", "align": "left", "baseline": "alphabetic", "fontSize": 12, "font": "Liberation Sans", "dx": 91}, "encoding": {"y": {"datum": 0.767, "type": "quantitative", "scale": {"domain": [0, 1]}, "axis": null}, "text": {"value": "fMet"}}}
   ]}
 ],
 "resolve": {"scale": {"y": "independent"}}
},
{
 "width": 322, "height": 258,
 "layer": [
  {"data": {"name": "d"}, "transform": [{"filter": "datum.p === 'C'"}],
   "encoding": {"x": {"field": "x", "type": "quantitative", "title": "FRET", "scale": {"domain": [0, 1], "nice": false, "padding": 0}, "axis": {"values": [0, 0.2, 0.4, 0.6, 0.8, 1], "format": ".1f", "labelFont": "Liberation Sans", "labelFontSize": 14.5, "labelFontWeight": "bold", "labelColor": "black", "labelFlush": false, "labelOverlap": false, "labelPadding": 1, "titleFont": "Liberation Sans", "titleFontSize": 14.5, "titleFontWeight": "bold", "titleColor": "black", "titleY": 36, "domainColor": "black", "domainWidth": 3, "tickColor": "black", "tickWidth": 3, "tickSize": 6, "grid": false}}},
   "layer": [
    {"mark": {"type": "bar", "width": 3.2, "fill": "#9c1111", "stroke": "#680303", "strokeWidth": 0.5}, "encoding": {"y": {"field": "h", "type": "quantitative", "title": "COUNT", "scale": {"domain": [0, 10000], "nice": false}, "axis": {"values": [0, 2000, 4000, 6000, 8000, 10000], "format": "d", "labelFont": "Liberation Sans", "labelFontSize": 14.5, "labelFontWeight": "bold", "labelColor": "black", "labelOverlap": false, "labelPadding": 4, "titleFont": "Liberation Sans", "titleFontSize": 14.5, "titleFontWeight": "bold", "titleColor": "black", "titleX": -50, "domainColor": "black", "domainWidth": 3, "tickColor": "black", "tickWidth": 3, "tickSize": 6, "grid": false}}}},
    {"mark": {"type": "line", "color": "#ffe62e", "strokeWidth": 3, "interpolate": "monotone"}, "encoding": {"y": {"field": "a", "type": "quantitative", "title": "COUNT", "axis": {"values": [0, 2000, 4000, 6000, 8000, 10000], "format": "d", "labelFont": "Liberation Sans", "labelFontSize": 14.5, "labelFontWeight": "bold", "labelColor": "black", "labelOverlap": false, "labelPadding": 4, "titleFont": "Liberation Sans", "titleFontSize": 14.5, "titleFontWeight": "bold", "titleColor": "black", "titleX": -50, "domainColor": "black", "domainWidth": 3, "tickColor": "black", "tickWidth": 3, "tickSize": 6, "grid": false}}}},
    {"mark": {"type": "line", "color": "#ffe62e", "strokeWidth": 3, "interpolate": "monotone"}, "encoding": {"y": {"field": "b", "type": "quantitative", "title": "COUNT", "axis": {"values": [0, 2000, 4000, 6000, 8000, 10000], "format": "d", "labelFont": "Liberation Sans", "labelFontSize": 14.5, "labelFontWeight": "bold", "labelColor": "black", "labelOverlap": false, "labelPadding": 4, "titleFont": "Liberation Sans", "titleFontSize": 14.5, "titleFontWeight": "bold", "titleColor": "black", "titleX": -50, "domainColor": "black", "domainWidth": 3, "tickColor": "black", "tickWidth": 3, "tickSize": 6, "grid": false}}}},
    {"mark": {"type": "line", "color": "black", "strokeWidth": 4, "interpolate": "monotone"}, "encoding": {"y": {"field": "t", "type": "quantitative", "title": "COUNT", "axis": {"values": [0, 2000, 4000, 6000, 8000, 10000], "format": "d", "labelFont": "Liberation Sans", "labelFontSize": 14.5, "labelFontWeight": "bold", "labelColor": "black", "labelOverlap": false, "labelPadding": 4, "titleFont": "Liberation Sans", "titleFontSize": 14.5, "titleFontWeight": "bold", "titleColor": "black", "titleX": -50, "domainColor": "black", "domainWidth": 3, "tickColor": "black", "tickWidth": 3, "tickSize": 6, "grid": false}}}}
   ]},
  {"data": {"values": [{}]},
   "encoding": {"x": {"datum": 0.03, "type": "quantitative", "title": "FRET", "axis": {"values": [0, 0.2, 0.4, 0.6, 0.8, 1], "format": ".1f", "labelFont": "Liberation Sans", "labelFontSize": 14.5, "labelFontWeight": "bold", "labelColor": "black", "labelFlush": false, "labelOverlap": false, "labelPadding": 1, "titleFont": "Liberation Sans", "titleFontSize": 14.5, "titleFontWeight": "bold", "titleColor": "black", "titleY": 36, "domainColor": "black", "domainWidth": 3, "tickColor": "black", "tickWidth": 3, "tickSize": 6, "grid": false}}},
   "layer": [
    {"mark": {"type": "text", "align": "left", "baseline": "alphabetic", "fontSize": 28, "fontWeight": "bold", "font": "Liberation Sans"}, "encoding": {"y": {"datum": 0.961, "type": "quantitative", "scale": {"domain": [0, 1]}, "axis": null}, "text": {"value": "C"}}},
    {"mark": {"type": "text", "align": "left", "baseline": "alphabetic", "fontSize": 19, "lineHeight": 26, "font": "Liberation Sans", "dx": 3}, "encoding": {"y": {"datum": 0.829, "type": "quantitative", "scale": {"domain": [0, 1]}, "axis": null}, "text": {"value": ["N = 297", "Vacant"]}}}
   ]}
 ],
 "resolve": {"scale": {"y": "independent"}}
},
{
 "width": 322, "height": 258,
 "layer": [
  {"data": {"name": "d"}, "transform": [{"filter": "datum.p === 'D'"}],
   "encoding": {"x": {"field": "x", "type": "quantitative", "title": "FRET", "scale": {"domain": [0, 1], "nice": false, "padding": 0}, "axis": {"values": [0, 0.2, 0.4, 0.6, 0.8, 1], "format": ".1f", "labelFont": "Liberation Sans", "labelFontSize": 14.5, "labelFontWeight": "bold", "labelColor": "black", "labelFlush": false, "labelOverlap": false, "labelPadding": 1, "titleFont": "Liberation Sans", "titleFontSize": 14.5, "titleFontWeight": "bold", "titleColor": "black", "titleY": 36, "domainColor": "black", "domainWidth": 3, "tickColor": "black", "tickWidth": 3, "tickSize": 6, "grid": false}}},
   "layer": [
    {"mark": {"type": "bar", "width": 3.2, "fill": "#9c1111", "stroke": "#680303", "strokeWidth": 0.5}, "encoding": {"y": {"field": "h", "type": "quantitative", "title": "COUNT", "scale": {"domain": [0, 4000], "nice": false}, "axis": {"values": [0, 500, 1000, 1500, 2000, 2500, 3000, 3500, 4000], "format": "d", "labelFont": "Liberation Sans", "labelFontSize": 14.5, "labelFontWeight": "bold", "labelColor": "black", "labelOverlap": false, "labelPadding": 4, "titleFont": "Liberation Sans", "titleFontSize": 14.5, "titleFontWeight": "bold", "titleColor": "black", "titleX": -50, "domainColor": "black", "domainWidth": 3, "tickColor": "black", "tickWidth": 3, "tickSize": 6, "grid": false}}}},
    {"mark": {"type": "line", "color": "#ffe62e", "strokeWidth": 3, "interpolate": "monotone"}, "encoding": {"y": {"field": "a", "type": "quantitative", "title": "COUNT", "axis": {"values": [0, 500, 1000, 1500, 2000, 2500, 3000, 3500, 4000], "format": "d", "labelFont": "Liberation Sans", "labelFontSize": 14.5, "labelFontWeight": "bold", "labelColor": "black", "labelOverlap": false, "labelPadding": 4, "titleFont": "Liberation Sans", "titleFontSize": 14.5, "titleFontWeight": "bold", "titleColor": "black", "titleX": -50, "domainColor": "black", "domainWidth": 3, "tickColor": "black", "tickWidth": 3, "tickSize": 6, "grid": false}}}},
    {"mark": {"type": "line", "color": "#ffe62e", "strokeWidth": 3, "interpolate": "monotone"}, "encoding": {"y": {"field": "b", "type": "quantitative", "title": "COUNT", "axis": {"values": [0, 500, 1000, 1500, 2000, 2500, 3000, 3500, 4000], "format": "d", "labelFont": "Liberation Sans", "labelFontSize": 14.5, "labelFontWeight": "bold", "labelColor": "black", "labelOverlap": false, "labelPadding": 4, "titleFont": "Liberation Sans", "titleFontSize": 14.5, "titleFontWeight": "bold", "titleColor": "black", "titleX": -50, "domainColor": "black", "domainWidth": 3, "tickColor": "black", "tickWidth": 3, "tickSize": 6, "grid": false}}}},
    {"mark": {"type": "line", "color": "black", "strokeWidth": 4, "interpolate": "monotone"}, "encoding": {"y": {"field": "t", "type": "quantitative", "title": "COUNT", "axis": {"values": [0, 500, 1000, 1500, 2000, 2500, 3000, 3500, 4000], "format": "d", "labelFont": "Liberation Sans", "labelFontSize": 14.5, "labelFontWeight": "bold", "labelColor": "black", "labelOverlap": false, "labelPadding": 4, "titleFont": "Liberation Sans", "titleFontSize": 14.5, "titleFontWeight": "bold", "titleColor": "black", "titleX": -50, "domainColor": "black", "domainWidth": 3, "tickColor": "black", "tickWidth": 3, "tickSize": 6, "grid": false}}}}
   ]},
  {"data": {"values": [{}]},
   "encoding": {"x": {"datum": 0.03, "type": "quantitative", "title": "FRET", "axis": {"values": [0, 0.2, 0.4, 0.6, 0.8, 1], "format": ".1f", "labelFont": "Liberation Sans", "labelFontSize": 14.5, "labelFontWeight": "bold", "labelColor": "black", "labelFlush": false, "labelOverlap": false, "labelPadding": 1, "titleFont": "Liberation Sans", "titleFontSize": 14.5, "titleFontWeight": "bold", "titleColor": "black", "titleY": 36, "domainColor": "black", "domainWidth": 3, "tickColor": "black", "tickWidth": 3, "tickSize": 6, "grid": false}}},
   "layer": [
    {"mark": {"type": "text", "align": "left", "baseline": "alphabetic", "fontSize": 28, "fontWeight": "bold", "font": "Liberation Sans"}, "encoding": {"y": {"datum": 0.961, "type": "quantitative", "scale": {"domain": [0, 1]}, "axis": null}, "text": {"value": "D"}}},
    {"mark": {"type": "text", "align": "left", "baseline": "alphabetic", "fontSize": 19, "lineHeight": 26, "font": "Liberation Sans", "dx": 3}, "encoding": {"y": {"datum": 0.829, "type": "quantitative", "scale": {"domain": [0, 1]}, "axis": null}, "text": {"value": ["N = 126", "Vacant", "1 µM IF2", "GDPCP"]}}}
   ]}
 ],
 "resolve": {"scale": {"y": "independent"}}
},
{
 "width": 322, "height": 258,
 "layer": [
  {"data": {"name": "d"}, "transform": [{"filter": "datum.p === 'E'"}],
   "encoding": {"x": {"field": "x", "type": "quantitative", "title": "FRET", "scale": {"domain": [0, 1], "nice": false, "padding": 0}, "axis": {"values": [0, 0.2, 0.4, 0.6, 0.8, 1], "format": ".1f", "labelFont": "Liberation Sans", "labelFontSize": 14.5, "labelFontWeight": "bold", "labelColor": "black", "labelFlush": false, "labelOverlap": false, "labelPadding": 1, "titleFont": "Liberation Sans", "titleFontSize": 14.5, "titleFontWeight": "bold", "titleColor": "black", "titleY": 36, "domainColor": "black", "domainWidth": 3, "tickColor": "black", "tickWidth": 3, "tickSize": 6, "grid": false}}},
   "layer": [
    {"mark": {"type": "bar", "width": 3.2, "fill": "#9c1111", "stroke": "#680303", "strokeWidth": 0.5}, "encoding": {"y": {"field": "h", "type": "quantitative", "title": "COUNT", "scale": {"domain": [0, 9000], "nice": false}, "axis": {"values": [0, 1000, 2000, 3000, 4000, 5000, 6000, 7000, 8000, 9000], "format": "d", "labelFont": "Liberation Sans", "labelFontSize": 14.5, "labelFontWeight": "bold", "labelColor": "black", "labelOverlap": false, "labelPadding": 4, "titleFont": "Liberation Sans", "titleFontSize": 14.5, "titleFontWeight": "bold", "titleColor": "black", "titleX": -50, "domainColor": "black", "domainWidth": 3, "tickColor": "black", "tickWidth": 3, "tickSize": 6, "grid": false}}}},
    {"mark": {"type": "line", "color": "#ffe62e", "strokeWidth": 3, "interpolate": "monotone"}, "encoding": {"y": {"field": "a", "type": "quantitative", "title": "COUNT", "axis": {"values": [0, 1000, 2000, 3000, 4000, 5000, 6000, 7000, 8000, 9000], "format": "d", "labelFont": "Liberation Sans", "labelFontSize": 14.5, "labelFontWeight": "bold", "labelColor": "black", "labelOverlap": false, "labelPadding": 4, "titleFont": "Liberation Sans", "titleFontSize": 14.5, "titleFontWeight": "bold", "titleColor": "black", "titleX": -50, "domainColor": "black", "domainWidth": 3, "tickColor": "black", "tickWidth": 3, "tickSize": 6, "grid": false}}}},
    {"mark": {"type": "line", "color": "#ffe62e", "strokeWidth": 3, "interpolate": "monotone"}, "encoding": {"y": {"field": "b", "type": "quantitative", "title": "COUNT", "axis": {"values": [0, 1000, 2000, 3000, 4000, 5000, 6000, 7000, 8000, 9000], "format": "d", "labelFont": "Liberation Sans", "labelFontSize": 14.5, "labelFontWeight": "bold", "labelColor": "black", "labelOverlap": false, "labelPadding": 4, "titleFont": "Liberation Sans", "titleFontSize": 14.5, "titleFontWeight": "bold", "titleColor": "black", "titleX": -50, "domainColor": "black", "domainWidth": 3, "tickColor": "black", "tickWidth": 3, "tickSize": 6, "grid": false}}}},
    {"mark": {"type": "line", "color": "black", "strokeWidth": 4, "interpolate": "monotone"}, "encoding": {"y": {"field": "t", "type": "quantitative", "title": "COUNT", "axis": {"values": [0, 1000, 2000, 3000, 4000, 5000, 6000, 7000, 8000, 9000], "format": "d", "labelFont": "Liberation Sans", "labelFontSize": 14.5, "labelFontWeight": "bold", "labelColor": "black", "labelOverlap": false, "labelPadding": 4, "titleFont": "Liberation Sans", "titleFontSize": 14.5, "titleFontWeight": "bold", "titleColor": "black", "titleX": -50, "domainColor": "black", "domainWidth": 3, "tickColor": "black", "tickWidth": 3, "tickSize": 6, "grid": false}}}}
   ]},
  {"data": {"values": [{}]},
   "encoding": {"x": {"datum": 0.03, "type": "quantitative", "title": "FRET", "axis": {"values": [0, 0.2, 0.4, 0.6, 0.8, 1], "format": ".1f", "labelFont": "Liberation Sans", "labelFontSize": 14.5, "labelFontWeight": "bold", "labelColor": "black", "labelFlush": false, "labelOverlap": false, "labelPadding": 1, "titleFont": "Liberation Sans", "titleFontSize": 14.5, "titleFontWeight": "bold", "titleColor": "black", "titleY": 36, "domainColor": "black", "domainWidth": 3, "tickColor": "black", "tickWidth": 3, "tickSize": 6, "grid": false}}},
   "layer": [
    {"mark": {"type": "text", "align": "left", "baseline": "alphabetic", "fontSize": 28, "fontWeight": "bold", "font": "Liberation Sans"}, "encoding": {"y": {"datum": 0.961, "type": "quantitative", "scale": {"domain": [0, 1]}, "axis": null}, "text": {"value": "E"}}},
    {"mark": {"type": "text", "align": "left", "baseline": "alphabetic", "fontSize": 19, "lineHeight": 26, "font": "Liberation Sans", "dx": 3}, "encoding": {"y": {"datum": 0.829, "type": "quantitative", "scale": {"domain": [0, 1]}, "axis": null}, "text": {"value": ["N = 359", "tRNA"]}}},
    {"mark": {"type": "text", "align": "left", "baseline": "alphabetic", "fontSize": 12, "font": "Liberation Sans", "dx": 51}, "encoding": {"y": {"datum": 0.767, "type": "quantitative", "scale": {"domain": [0, 1]}, "axis": null}, "text": {"value": "fMet"}}}
   ]}
 ],
 "resolve": {"scale": {"y": "independent"}}
},
{
 "width": 322, "height": 258,
 "layer": [
  {"data": {"name": "d"}, "transform": [{"filter": "datum.p === 'F'"}],
   "encoding": {"x": {"field": "x", "type": "quantitative", "title": "FRET", "scale": {"domain": [0, 1], "nice": false, "padding": 0}, "axis": {"values": [0, 0.2, 0.4, 0.6, 0.8, 1], "format": ".1f", "labelFont": "Liberation Sans", "labelFontSize": 14.5, "labelFontWeight": "bold", "labelColor": "black", "labelFlush": false, "labelOverlap": false, "labelPadding": 1, "titleFont": "Liberation Sans", "titleFontSize": 14.5, "titleFontWeight": "bold", "titleColor": "black", "titleY": 36, "domainColor": "black", "domainWidth": 3, "tickColor": "black", "tickWidth": 3, "tickSize": 6, "grid": false}}},
   "layer": [
    {"mark": {"type": "bar", "width": 3.2, "fill": "#9c1111", "stroke": "#680303", "strokeWidth": 0.5}, "encoding": {"y": {"field": "h", "type": "quantitative", "title": "COUNT", "scale": {"domain": [0, 16000], "nice": false}, "axis": {"values": [0, 2000, 4000, 6000, 8000, 10000, 12000, 14000, 16000], "format": "d", "labelFont": "Liberation Sans", "labelFontSize": 14.5, "labelFontWeight": "bold", "labelColor": "black", "labelOverlap": false, "labelPadding": 4, "titleFont": "Liberation Sans", "titleFontSize": 14.5, "titleFontWeight": "bold", "titleColor": "black", "titleX": -50, "domainColor": "black", "domainWidth": 3, "tickColor": "black", "tickWidth": 3, "tickSize": 6, "grid": false}}}},
    {"mark": {"type": "line", "color": "#ffe62e", "strokeWidth": 3, "interpolate": "monotone"}, "encoding": {"y": {"field": "a", "type": "quantitative", "title": "COUNT", "axis": {"values": [0, 2000, 4000, 6000, 8000, 10000, 12000, 14000, 16000], "format": "d", "labelFont": "Liberation Sans", "labelFontSize": 14.5, "labelFontWeight": "bold", "labelColor": "black", "labelOverlap": false, "labelPadding": 4, "titleFont": "Liberation Sans", "titleFontSize": 14.5, "titleFontWeight": "bold", "titleColor": "black", "titleX": -50, "domainColor": "black", "domainWidth": 3, "tickColor": "black", "tickWidth": 3, "tickSize": 6, "grid": false}}}},
    {"mark": {"type": "line", "color": "#ffe62e", "strokeWidth": 3, "interpolate": "monotone"}, "encoding": {"y": {"field": "b", "type": "quantitative", "title": "COUNT", "axis": {"values": [0, 2000, 4000, 6000, 8000, 10000, 12000, 14000, 16000], "format": "d", "labelFont": "Liberation Sans", "labelFontSize": 14.5, "labelFontWeight": "bold", "labelColor": "black", "labelOverlap": false, "labelPadding": 4, "titleFont": "Liberation Sans", "titleFontSize": 14.5, "titleFontWeight": "bold", "titleColor": "black", "titleX": -50, "domainColor": "black", "domainWidth": 3, "tickColor": "black", "tickWidth": 3, "tickSize": 6, "grid": false}}}},
    {"mark": {"type": "line", "color": "black", "strokeWidth": 4, "interpolate": "monotone"}, "encoding": {"y": {"field": "t", "type": "quantitative", "title": "COUNT", "axis": {"values": [0, 2000, 4000, 6000, 8000, 10000, 12000, 14000, 16000], "format": "d", "labelFont": "Liberation Sans", "labelFontSize": 14.5, "labelFontWeight": "bold", "labelColor": "black", "labelOverlap": false, "labelPadding": 4, "titleFont": "Liberation Sans", "titleFontSize": 14.5, "titleFontWeight": "bold", "titleColor": "black", "titleX": -50, "domainColor": "black", "domainWidth": 3, "tickColor": "black", "tickWidth": 3, "tickSize": 6, "grid": false}}}}
   ]},
  {"data": {"values": [{}]},
   "encoding": {"x": {"datum": 0.03, "type": "quantitative", "title": "FRET", "axis": {"values": [0, 0.2, 0.4, 0.6, 0.8, 1], "format": ".1f", "labelFont": "Liberation Sans", "labelFontSize": 14.5, "labelFontWeight": "bold", "labelColor": "black", "labelFlush": false, "labelOverlap": false, "labelPadding": 1, "titleFont": "Liberation Sans", "titleFontSize": 14.5, "titleFontWeight": "bold", "titleColor": "black", "titleY": 36, "domainColor": "black", "domainWidth": 3, "tickColor": "black", "tickWidth": 3, "tickSize": 6, "grid": false}}},
   "layer": [
    {"mark": {"type": "text", "align": "left", "baseline": "alphabetic", "fontSize": 28, "fontWeight": "bold", "font": "Liberation Sans"}, "encoding": {"y": {"datum": 0.961, "type": "quantitative", "scale": {"domain": [0, 1]}, "axis": null}, "text": {"value": "F"}}},
    {"mark": {"type": "text", "align": "left", "baseline": "alphabetic", "fontSize": 19, "lineHeight": 26, "font": "Liberation Sans", "dx": 3}, "encoding": {"y": {"datum": 0.829, "type": "quantitative", "scale": {"domain": [0, 1]}, "axis": null}, "text": {"value": ["N = 522", "tRNA", "1 µM IF2", "GDPCP"]}}},
    {"mark": {"type": "text", "align": "left", "baseline": "alphabetic", "fontSize": 12, "font": "Liberation Sans", "dx": 51}, "encoding": {"y": {"datum": 0.767, "type": "quantitative", "scale": {"domain": [0, 1]}, "axis": null}, "text": {"value": "fMet"}}}
   ]}
 ],
 "resolve": {"scale": {"y": "independent"}}
},
{
 "width": 322, "height": 258,
 "layer": [
  {"data": {"name": "d"}, "transform": [{"filter": "datum.p === 'G'"}],
   "encoding": {"x": {"field": "x", "type": "quantitative", "title": "FRET", "scale": {"domain": [0, 1], "nice": false, "padding": 0}, "axis": {"values": [0, 0.2, 0.4, 0.6, 0.8, 1], "format": ".1f", "labelFont": "Liberation Sans", "labelFontSize": 14.5, "labelFontWeight": "bold", "labelColor": "black", "labelFlush": false, "labelOverlap": false, "labelPadding": 1, "titleFont": "Liberation Sans", "titleFontSize": 14.5, "titleFontWeight": "bold", "titleColor": "black", "titleY": 36, "domainColor": "black", "domainWidth": 3, "tickColor": "black", "tickWidth": 3, "tickSize": 6, "grid": false}}},
   "layer": [
    {"mark": {"type": "bar", "width": 3.2, "fill": "#9c1111", "stroke": "#680303", "strokeWidth": 0.5}, "encoding": {"y": {"field": "h", "type": "quantitative", "title": "COUNT", "scale": {"domain": [0, 6000], "nice": false}, "axis": {"values": [0, 1000, 2000, 3000, 4000, 5000, 6000], "format": "d", "labelFont": "Liberation Sans", "labelFontSize": 14.5, "labelFontWeight": "bold", "labelColor": "black", "labelOverlap": false, "labelPadding": 4, "titleFont": "Liberation Sans", "titleFontSize": 14.5, "titleFontWeight": "bold", "titleColor": "black", "titleX": -50, "domainColor": "black", "domainWidth": 3, "tickColor": "black", "tickWidth": 3, "tickSize": 6, "grid": false}}}},
    {"mark": {"type": "line", "color": "#ffe62e", "strokeWidth": 3, "interpolate": "monotone"}, "encoding": {"y": {"field": "a", "type": "quantitative", "title": "COUNT", "axis": {"values": [0, 1000, 2000, 3000, 4000, 5000, 6000], "format": "d", "labelFont": "Liberation Sans", "labelFontSize": 14.5, "labelFontWeight": "bold", "labelColor": "black", "labelOverlap": false, "labelPadding": 4, "titleFont": "Liberation Sans", "titleFontSize": 14.5, "titleFontWeight": "bold", "titleColor": "black", "titleX": -50, "domainColor": "black", "domainWidth": 3, "tickColor": "black", "tickWidth": 3, "tickSize": 6, "grid": false}}}},
    {"mark": {"type": "line", "color": "#ffe62e", "strokeWidth": 3, "interpolate": "monotone"}, "encoding": {"y": {"field": "b", "type": "quantitative", "title": "COUNT", "axis": {"values": [0, 1000, 2000, 3000, 4000, 5000, 6000], "format": "d", "labelFont": "Liberation Sans", "labelFontSize": 14.5, "labelFontWeight": "bold", "labelColor": "black", "labelOverlap": false, "labelPadding": 4, "titleFont": "Liberation Sans", "titleFontSize": 14.5, "titleFontWeight": "bold", "titleColor": "black", "titleX": -50, "domainColor": "black", "domainWidth": 3, "tickColor": "black", "tickWidth": 3, "tickSize": 6, "grid": false}}}},
    {"mark": {"type": "line", "color": "black", "strokeWidth": 4, "interpolate": "monotone"}, "encoding": {"y": {"field": "t", "type": "quantitative", "title": "COUNT", "axis": {"values": [0, 1000, 2000, 3000, 4000, 5000, 6000], "format": "d", "labelFont": "Liberation Sans", "labelFontSize": 14.5, "labelFontWeight": "bold", "labelColor": "black", "labelOverlap": false, "labelPadding": 4, "titleFont": "Liberation Sans", "titleFontSize": 14.5, "titleFontWeight": "bold", "titleColor": "black", "titleX": -50, "domainColor": "black", "domainWidth": 3, "tickColor": "black", "tickWidth": 3, "tickSize": 6, "grid": false}}}}
   ]},
  {"data": {"values": [{}]},
   "encoding": {"x": {"datum": 0.03, "type": "quantitative", "title": "FRET", "axis": {"values": [0, 0.2, 0.4, 0.6, 0.8, 1], "format": ".1f", "labelFont": "Liberation Sans", "labelFontSize": 14.5, "labelFontWeight": "bold", "labelColor": "black", "labelFlush": false, "labelOverlap": false, "labelPadding": 1, "titleFont": "Liberation Sans", "titleFontSize": 14.5, "titleFontWeight": "bold", "titleColor": "black", "titleY": 36, "domainColor": "black", "domainWidth": 3, "tickColor": "black", "tickWidth": 3, "tickSize": 6, "grid": false}}},
   "layer": [
    {"mark": {"type": "text", "align": "left", "baseline": "alphabetic", "fontSize": 28, "fontWeight": "bold", "font": "Liberation Sans"}, "encoding": {"y": {"datum": 0.961, "type": "quantitative", "scale": {"domain": [0, 1]}, "axis": null}, "text": {"value": "G"}}},
    {"mark": {"type": "text", "align": "left", "baseline": "alphabetic", "fontSize": 19, "lineHeight": 26, "font": "Liberation Sans", "dx": 3}, "encoding": {"y": {"datum": 0.829, "type": "quantitative", "scale": {"domain": [0, 1]}, "axis": null}, "text": {"value": ["N = 401", "fMet-tRNA", "1 µM EF-G", "GDPNP"]}}},
    {"mark": {"type": "text", "align": "left", "baseline": "alphabetic", "fontSize": 12, "font": "Liberation Sans", "dx": 91}, "encoding": {"y": {"datum": 0.767, "type": "quantitative", "scale": {"domain": [0, 1]}, "axis": null}, "text": {"value": "fMet"}}}
   ]}
 ],
 "resolve": {"scale": {"y": "independent"}}
},
{
 "width": 322, "height": 258,
 "layer": [
  {"data": {"name": "d"}, "transform": [{"filter": "datum.p === 'H'"}],
   "encoding": {"x": {"field": "x", "type": "quantitative", "title": "FRET", "scale": {"domain": [0, 1], "nice": false, "padding": 0}, "axis": {"values": [0, 0.2, 0.4, 0.6, 0.8, 1], "format": ".1f", "labelFont": "Liberation Sans", "labelFontSize": 14.5, "labelFontWeight": "bold", "labelColor": "black", "labelFlush": false, "labelOverlap": false, "labelPadding": 1, "titleFont": "Liberation Sans", "titleFontSize": 14.5, "titleFontWeight": "bold", "titleColor": "black", "titleY": 36, "domainColor": "black", "domainWidth": 3, "tickColor": "black", "tickWidth": 3, "tickSize": 6, "grid": false}}},
   "layer": [
    {"mark": {"type": "bar", "width": 3.2, "fill": "#9c1111", "stroke": "#680303", "strokeWidth": 0.5}, "encoding": {"y": {"field": "h", "type": "quantitative", "title": "COUNT", "scale": {"domain": [0, 8000], "nice": false}, "axis": {"values": [0, 1000, 2000, 3000, 4000, 5000, 6000, 7000, 8000], "format": "d", "labelFont": "Liberation Sans", "labelFontSize": 14.5, "labelFontWeight": "bold", "labelColor": "black", "labelOverlap": false, "labelPadding": 4, "titleFont": "Liberation Sans", "titleFontSize": 14.5, "titleFontWeight": "bold", "titleColor": "black", "titleX": -50, "domainColor": "black", "domainWidth": 3, "tickColor": "black", "tickWidth": 3, "tickSize": 6, "grid": false}}}},
    {"mark": {"type": "line", "color": "#ffe62e", "strokeWidth": 3, "interpolate": "monotone"}, "encoding": {"y": {"field": "a", "type": "quantitative", "title": "COUNT", "axis": {"values": [0, 1000, 2000, 3000, 4000, 5000, 6000, 7000, 8000], "format": "d", "labelFont": "Liberation Sans", "labelFontSize": 14.5, "labelFontWeight": "bold", "labelColor": "black", "labelOverlap": false, "labelPadding": 4, "titleFont": "Liberation Sans", "titleFontSize": 14.5, "titleFontWeight": "bold", "titleColor": "black", "titleX": -50, "domainColor": "black", "domainWidth": 3, "tickColor": "black", "tickWidth": 3, "tickSize": 6, "grid": false}}}},
    {"mark": {"type": "line", "color": "#ffe62e", "strokeWidth": 3, "interpolate": "monotone"}, "encoding": {"y": {"field": "b", "type": "quantitative", "title": "COUNT", "axis": {"values": [0, 1000, 2000, 3000, 4000, 5000, 6000, 7000, 8000], "format": "d", "labelFont": "Liberation Sans", "labelFontSize": 14.5, "labelFontWeight": "bold", "labelColor": "black", "labelOverlap": false, "labelPadding": 4, "titleFont": "Liberation Sans", "titleFontSize": 14.5, "titleFontWeight": "bold", "titleColor": "black", "titleX": -50, "domainColor": "black", "domainWidth": 3, "tickColor": "black", "tickWidth": 3, "tickSize": 6, "grid": false}}}},
    {"mark": {"type": "line", "color": "black", "strokeWidth": 4, "interpolate": "monotone"}, "encoding": {"y": {"field": "t", "type": "quantitative", "title": "COUNT", "axis": {"values": [0, 1000, 2000, 3000, 4000, 5000, 6000, 7000, 8000], "format": "d", "labelFont": "Liberation Sans", "labelFontSize": 14.5, "labelFontWeight": "bold", "labelColor": "black", "labelOverlap": false, "labelPadding": 4, "titleFont": "Liberation Sans", "titleFontSize": 14.5, "titleFontWeight": "bold", "titleColor": "black", "titleX": -50, "domainColor": "black", "domainWidth": 3, "tickColor": "black", "tickWidth": 3, "tickSize": 6, "grid": false}}}}
   ]},
  {"data": {"values": [{}]},
   "encoding": {"x": {"datum": 0.03, "type": "quantitative", "title": "FRET", "axis": {"values": [0, 0.2, 0.4, 0.6, 0.8, 1], "format": ".1f", "labelFont": "Liberation Sans", "labelFontSize": 14.5, "labelFontWeight": "bold", "labelColor": "black", "labelFlush": false, "labelOverlap": false, "labelPadding": 1, "titleFont": "Liberation Sans", "titleFontSize": 14.5, "titleFontWeight": "bold", "titleColor": "black", "titleY": 36, "domainColor": "black", "domainWidth": 3, "tickColor": "black", "tickWidth": 3, "tickSize": 6, "grid": false}}},
   "layer": [
    {"mark": {"type": "text", "align": "left", "baseline": "alphabetic", "fontSize": 28, "fontWeight": "bold", "font": "Liberation Sans"}, "encoding": {"y": {"datum": 0.961, "type": "quantitative", "scale": {"domain": [0, 1]}, "axis": null}, "text": {"value": "H"}}},
    {"mark": {"type": "text", "align": "left", "baseline": "alphabetic", "fontSize": 19, "lineHeight": 26, "font": "Liberation Sans", "dx": 3}, "encoding": {"y": {"datum": 0.829, "type": "quantitative", "scale": {"domain": [0, 1]}, "axis": null}, "text": {"value": ["N = 459", "fMet-tRNA", "1 µM RF3", "GDPNP"]}}},
    {"mark": {"type": "text", "align": "left", "baseline": "alphabetic", "fontSize": 12, "font": "Liberation Sans", "dx": 91}, "encoding": {"y": {"datum": 0.767, "type": "quantitative", "scale": {"domain": [0, 1]}, "axis": null}, "text": {"value": "fMet"}}}
   ]}
 ],
 "resolve": {"scale": {"y": "independent"}}
}
]
}
